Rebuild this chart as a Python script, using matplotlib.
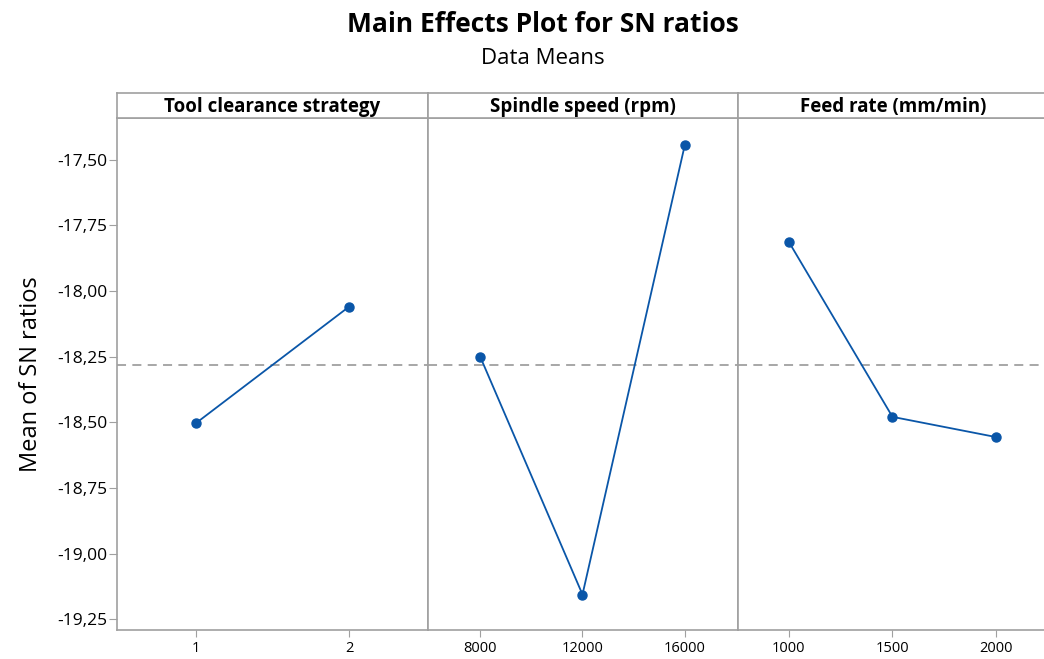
import matplotlib
matplotlib.use("Agg")
from matplotlib import pyplot as plt
from matplotlib.ticker import FuncFormatter

# main effects data (mean of SN ratios per level)
factors = ["Tool clearance strategy", "Spindle speed (rpm)", "Feed rate (mm/min)"]
tool_levels = ["1", "2"]
tool_means = [-18.503, -18.060]
spindle_levels = ["8000", "12000", "16000"]
spindle_means = [-18.250, -19.155, -17.445]
feed_levels = ["1000", "1500", "2000"]
feed_means = [-17.813, -18.479, -18.556]
y_ticks = [-17.50, -17.75, -18.00, -18.25, -18.50, -18.75, -19.00, -19.25]

plt.rcParams['font.family'] = ['Open Sans', 'DejaVu Sans']

W, H = 1044, 659
fig = plt.figure(figsize=(W / 100, H / 100), dpi=100)

line_col = '#0a56a8'
grid_col = '#a0a0a0'

grand_mean = (sum(tool_means) / 2 + sum(spindle_means) / 3 + sum(feed_means) / 3) / 3

panels = [
    (tool_levels, tool_means, 117, 428, (-0.516, 1.516)),
    (spindle_levels, spindle_means, 428, 738, (-0.51, 2.52)),
    (feed_levels, feed_means, 738, 1049, (-0.49, 2.51)),
]

ax_bottom = 1 - 630 / H
ax_top = 1 - 118 / H
strip_top = 1 - 93 / H

fmt = FuncFormatter(lambda v, p: ("%.2f" % v).replace(".", ","))

for i, (levels, means, x0, x1, xl) in enumerate(panels):
    ax = fig.add_axes([x0 / W, ax_bottom, (x1 - x0) / W, ax_top - ax_bottom])
    xs = list(range(len(levels)))
    ax.plot(xs, means, color=line_col, lw=1.3, marker='o', ms=6.5, zorder=3)
    ax.axhline(grand_mean, color=grid_col, ls=(0, (5, 3.5)), lw=1.3, zorder=1)
    ax.set_xlim(*xl)
    ax.set_ylim(-19.290, -17.342)
    ax.set_xticks(xs)
    ax.set_xticklabels(levels, fontsize=10.5)
    ax.tick_params(axis='x', length=5, color=grid_col, pad=3)
    ax.set_yticks(y_ticks)
    if i == 0:
        ax.yaxis.set_major_formatter(fmt)
        ax.tick_params(axis='y', length=6, color=grid_col, labelsize=12.5, pad=1)
        ax.set_ylabel("Mean of SN ratios", fontsize=17, labelpad=10)
    else:
        ax.tick_params(axis='y', length=0, labelleft=False)
    for s in ax.spines.values():
        s.set_color(grid_col)
        s.set_linewidth(1.2)

    sax = fig.add_axes([x0 / W, ax_top, (x1 - x0) / W, strip_top - ax_top])
    sax.set_xticks([])
    sax.set_yticks([])
    for s in sax.spines.values():
        s.set_color(grid_col)
        s.set_linewidth(1.2)
    sax.text(0.5, 0.45, factors[i], ha='center', va='center', fontsize=13.5,
             fontweight='bold', transform=sax.transAxes)

fig.text(543 / W, 1 - 25 / H, "Main Effects Plot for SN ratios", ha='center',
         va='center', fontsize=19, fontweight='bold')
fig.text(543 / W, 1 - 58 / H, "Data Means", ha='center', va='center', fontsize=16)

plt.savefig('out.png', dpi=100)
